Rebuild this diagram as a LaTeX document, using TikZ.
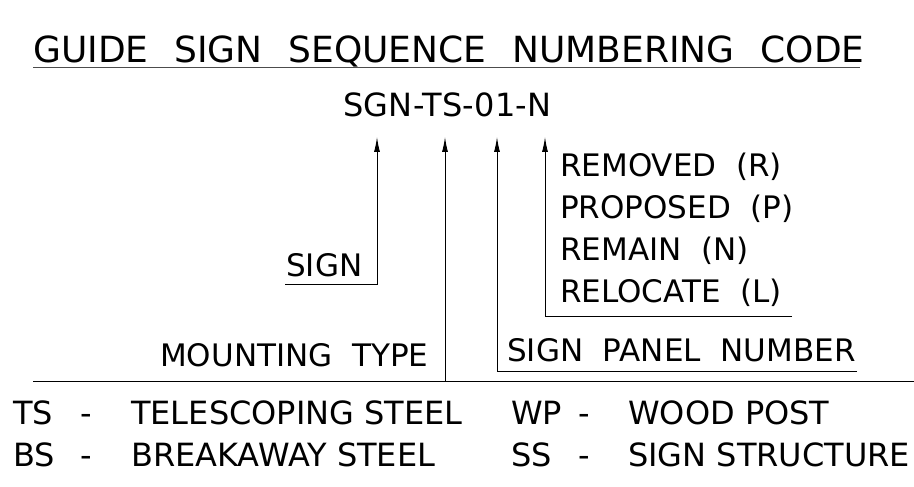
\documentclass[tikz,border=0pt]{standalone}
\usepackage{fontspec}
\setmainfont{DejaVu Sans}
\newfontfamily\codefont{DejaVu Sans}[LetterSpace=1]
\usepackage{tikz}
\usetikzlibrary{positioning, arrows.meta, calc}

\begin{document}
\begin{tikzpicture}[
  x=1pt, y=1pt,
  label/.style={inner sep=0pt, anchor=base west, font=\fontsize{31}{31}\selectfont},
  codetext/.style={inner sep=0pt, anchor=base west, font=\fontsize{32}{32}\selectfont},
  leader/.style={line width=1pt},
  arrow/.style={leader, -{Latex[length=15pt, width=6pt]}}
]
  \useasboundingbox (0,0) rectangle (914,487);

  % title
  \node[label, font=\fontsize{36}{36}\selectfont] (title) at (33,424)
    {GUIDE\hspace{0.72em}SIGN\hspace{0.72em}SEQUENCE\hspace{0.72em}NUMBERING\hspace{0.72em}CODE};
  \draw[leader, black!70] (33,419) -- (860,419);

  \node[label, font=\codefont\fontsize{32}{32}\selectfont] (code) at (343,370) {SGN-TS-01-N};

  % sign
  \node[label] (sign) at (286,210) {SIGN};
  \coordinate (signend) at (285,202);
  \coordinate (signtip) at (377,350);
  \draw[arrow] (signend) -| (signtip);

  % mounting type
  \node[label] (mount) at (160,120) {MOUNTING\ \ TYPE};
  \coordinate (mountL) at (33,105);
  \coordinate (mountR) at (914,105);
  \coordinate (mountC) at (445,105);
  \coordinate (mounttip) at (445,350);
  \draw[leader] (mountL) -- (mountR);
  \draw[arrow] (mountC) -- (mounttip);

  % panel number
  \node[label] (panel) at (507,125) {SIGN\ \ PANEL\ \ NUMBER};
  \coordinate (panelend) at (857,115);
  \coordinate (paneltip) at (497,350);
  \draw[arrow] (panelend) -| (paneltip);

  % status
  \node[label] (removed) at (560,310) {REMOVED\ \ (R)};
  \node[label] (proposed) at (560,268) {PROPOSED\ \ (P)};
  \node[label] (remain) at (560,226) {REMAIN\ \ (N)};
  \node[label] (relocate) at (560,184) {RELOCATE\ \ (L)};
  \coordinate (statusend) at (792,170);
  \coordinate (statustip) at (545,350);
  \draw[arrow] (statusend) -| (statustip);

  % mounting codes
  \node[codetext] (ts) at (13,62) {TS};
  \node[codetext] (tsdash) at (80,62) {-};
  \node[codetext] (tsname) at (131,62) {TELESCOPING\ STEEL};
  \node[codetext] (wp) at (511,62) {WP};
  \node[codetext] (wpdash) at (578,62) {-};
  \node[codetext] (wpname) at (628,62) {WOOD\ POST};
  \node[codetext] (bs) at (13,20) {BS};
  \node[codetext] (bsdash) at (80,20) {-};
  \node[codetext] (bsname) at (131,20) {BREAKAWAY\ STEEL};
  \node[codetext] (ss) at (511,20) {SS};
  \node[codetext] (ssdash) at (578,20) {-};
  \node[codetext] (ssname) at (628,20) {SIGN\ STRUCTURE};
\end{tikzpicture}
\end{document}
